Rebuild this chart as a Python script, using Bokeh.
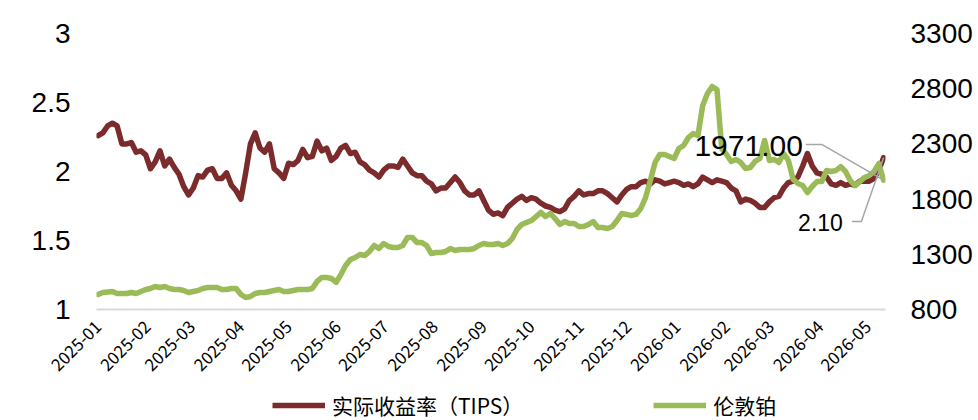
import math
import pandas as pd
from bokeh.plotting import figure
from bokeh.layouts import column
from bokeh.models import (Range1d, LinearAxis, FixedTicker, DatetimeTickFormatter,
                          Legend, LegendItem, Label, ColumnDataSource)
from bokeh.embed import file_html
from bokeh.resources import INLINE

# ---------------- data ----------------
START_DATE = "2025-01-01"
STEP = "3D"

tips = [
    2.26, 2.28, 2.33, 2.35, 2.33, 2.20, 2.20, 2.21, 2.14, 2.15,
    2.12, 2.02, 2.07, 2.15, 2.04, 2.09, 2.03, 1.98, 1.89, 1.83,
    1.88, 1.97, 1.96, 2.01, 2.02, 1.95, 1.95, 1.99, 1.90, 1.86,
    1.80, 1.99, 2.20, 2.28, 2.17, 2.14, 2.20, 2.02, 1.99, 1.95,
    2.06, 2.05, 2.08, 2.16, 2.10, 2.11, 2.22, 2.15, 2.17, 2.08,
    2.11, 2.17, 2.19, 2.13, 2.14, 2.07, 2.05, 2.01, 1.99, 1.96,
    2.01, 2.04, 2.04, 2.03, 2.09, 2.04, 1.99, 1.97, 1.97, 1.93,
    1.91, 1.86, 1.88, 1.88, 1.92, 1.96, 1.92, 1.86, 1.83, 1.83,
    1.86, 1.79, 1.72, 1.69, 1.70, 1.68, 1.74, 1.77, 1.80, 1.82,
    1.79, 1.81, 1.80, 1.77, 1.75, 1.74, 1.72, 1.71, 1.73, 1.79,
    1.82, 1.86, 1.83, 1.84, 1.84, 1.86, 1.86, 1.84, 1.81, 1.78,
    1.83, 1.87, 1.89, 1.89, 1.92, 1.93, 1.91, 1.94, 1.93, 1.91,
    1.92, 1.93, 1.92, 1.90, 1.91, 1.89, 1.91, 1.96, 1.94, 1.92,
    1.94, 1.93, 1.92, 1.88, 1.86, 1.78, 1.80, 1.79, 1.77, 1.74,
    1.74, 1.78, 1.81, 1.82, 1.88, 1.92, 1.93, 1.96, 2.04, 2.13,
    2.04, 1.99, 1.98, 1.96, 1.91, 1.90, 1.92, 1.90, 1.91, 1.90,
    1.93, 1.93, 1.93, 1.95, 2.01, 2.10,
]

platinum = [
    936, 954, 959, 963, 945, 945, 945, 954, 945, 963,
    981, 990, 1008, 999, 1008, 990, 981, 981, 972, 954,
    963, 972, 990, 999, 999, 999, 981, 981, 990, 990,
    936, 909, 918, 945, 954, 954, 963, 972, 981, 963,
    963, 972, 981, 981, 981, 990, 1054, 1090, 1090, 1081,
    1045, 1117, 1199, 1253, 1271, 1298, 1289, 1325, 1380, 1353,
    1398, 1371, 1362, 1362, 1380, 1452, 1452, 1407, 1407, 1380,
    1307, 1316, 1316, 1325, 1353, 1334, 1343, 1343, 1343, 1353,
    1380, 1398, 1389, 1389, 1398, 1380, 1398, 1443, 1525, 1570,
    1588, 1606, 1642, 1679, 1642, 1670, 1624, 1570, 1597, 1579,
    1579, 1552, 1552, 1570, 1597, 1543, 1543, 1534, 1552, 1606,
    1670, 1661, 1651, 1661, 1715, 1814, 1968, 2132, 2204, 2204,
    2186, 2168, 2258, 2286, 2358, 2394, 2376, 2648, 2757, 2820,
    2793, 2258, 2204, 2141, 2159, 2132, 2077, 2086, 2141, 2168,
    2331, 2150, 2159, 2132, 2213, 2150, 1978, 1941, 1923, 1860,
    1914, 1959, 1959, 2059, 2050, 2059, 2095, 2050, 1968, 1923,
    1959, 1996, 2014, 2050, 2122, 1971,
]

months = ["2025-01", "2025-02", "2025-03", "2025-04", "2025-05", "2025-06",
          "2025-07", "2025-08", "2025-09", "2025-10", "2025-11", "2025-12",
          "2026-01", "2026-02", "2026-03", "2026-04", "2026-05"]
left_ticks = [1, 1.5, 2, 2.5, 3]
right_ticks = [800, 1300, 1800, 2300, 2800, 3300]
series_names = ["实际收益率（TIPS）", "伦敦铂"]

# ---------------- styles ----------------
RED = "#7B2B2B"
GREEN = "#9BBB59"
LEADER = "#A6A6A6"
NUM_FONT = "Liberation Sans"
CJK_FONT = "Noto Sans CJK SC"
LINE_W = 5.5

dates = pd.date_range(START_DATE, periods=len(tips), freq=STEP)
src = ColumnDataSource(dict(date=dates, tips=tips, pt=platinum))

def ms(ts):
    return pd.Timestamp(ts).value / 1e6

x0 = ms(dates[0] - pd.Timedelta(days=1))
x1 = ms(dates[-1] + pd.Timedelta(days=1.2))

p = figure(width=978, height=390, x_axis_type="datetime",
           output_backend="svg", toolbar_location=None,
           x_range=Range1d(x0, x1), y_range=Range1d(left_ticks[0], left_ticks[-1]),
           min_border_left=96, min_border_right=93,
           min_border_top=33, min_border_bottom=81)
p.outline_line_color = None
p.xgrid.visible = False
p.ygrid.visible = False
p.extra_y_ranges = {"right": Range1d(right_ticks[0], right_ticks[-1])}

# x axis
xa = p.xaxis[0]
xa.ticker = FixedTicker(ticks=[ms(m + "-01") for m in months])
fmt = "%Y-%m"
xa.formatter = DatetimeTickFormatter(years=fmt, months=fmt, days=fmt, hours=fmt,
                                     minutes=fmt, seconds=fmt, milliseconds=fmt,
                                     microseconds=fmt, hourmin=fmt, minsec=fmt)
xa.major_label_orientation = math.pi / 4
xa.axis_line_color = "#D9D9D9"
xa.axis_line_width = 2
xa.major_tick_line_color = None
xa.minor_tick_line_color = None
xa.major_tick_in = 0
xa.major_tick_out = 0
xa.major_label_standoff = 14
xa.major_label_text_font = CJK_FONT
xa.major_label_text_font_size = "17px"
xa.major_label_text_color = "#000000"

# left axis
ya = p.yaxis[0]
ya.ticker = FixedTicker(ticks=left_ticks)
ya.major_label_overrides = {t: f"{t:g}" for t in left_ticks}
ya.axis_line_color = None
ya.major_tick_line_color = None
ya.minor_tick_line_color = None
ya.major_tick_in = 0
ya.major_tick_out = 0
ya.major_label_standoff = 26
ya.major_label_text_font = NUM_FONT
ya.major_label_text_font_size = "28px"
ya.major_label_text_color = "#000000"

# right axis
ra = LinearAxis(y_range_name="right", ticker=FixedTicker(ticks=right_ticks))
ra.axis_line_color = None
ra.major_tick_line_color = None
ra.minor_tick_line_color = None
ra.major_tick_in = 0
ra.major_tick_out = 0
ra.major_label_standoff = 25
ra.major_label_text_font = NUM_FONT
ra.major_label_text_font_size = "28px"
ra.major_label_text_color = "#000000"
p.add_layout(ra, "right")

r_tips = p.line("date", "tips", source=src, color=RED, line_width=LINE_W,
                line_join="round", line_cap="round")
r_pt = p.line("date", "pt", source=src, color=GREEN, line_width=LINE_W,
              line_join="round", line_cap="round", y_range_name="right")

# last-value call-outs
last_date = dates[-1]
g_start, g_elbow, g_level = pd.Timestamp("2026-03-23"), pd.Timestamp("2026-04-02"), 2295
r_start, r_elbow, r_level = pd.Timestamp("2026-04-21"), pd.Timestamp("2026-04-27"), 1.638

p.line([g_start, g_elbow, last_date], [g_level, g_level, platinum[-1]],
       color=LEADER, line_width=1.5, y_range_name="right")
p.line([r_start, r_elbow, last_date], [r_level, r_level, tips[-1]],
       color=LEADER, line_width=1.5)

p.add_layout(Label(x=ms(g_start), y=g_level, y_range_name="right",
                   text=f"{platinum[-1]:.2f}", text_align="right",
                   text_baseline="middle", x_offset=-3, y_offset=-2,
                   text_font=NUM_FONT, text_font_size="30px", text_color="#000000"))
p.add_layout(Label(x=ms(r_start), y=r_level,
                   text=f"{tips[-1]:.2f}", text_align="right",
                   text_baseline="middle", x_offset=-9, y_offset=-1,
                   text_font=NUM_FONT, text_font_size="23px", text_color="#000000"))

# ---------------- legend strip (separate small figure, frame aligned with p) ----------------
leg = figure(width=978, height=30, output_backend="svg", toolbar_location=None,
             x_range=Range1d(0, 1), y_range=Range1d(0, 1),
             x_axis_location=None, y_axis_location=None,
             min_border_left=0, min_border_right=0, min_border_top=0, min_border_bottom=0)
leg.outline_line_color = None
leg.xgrid.visible = False
leg.ygrid.visible = False
# one-point swatch renderers (draw nothing themselves, only style the legend glyphs)
k_tips = leg.line(x=[-1], y=[-1], color=RED, line_width=LINE_W)
k_pt = leg.line(x=[-1], y=[-1], color=GREEN, line_width=LINE_W)

legend = Legend(items=[LegendItem(label=series_names[0], renderers=[k_tips]),
                       LegendItem(label=series_names[1], renderers=[k_pt])],
                location=(176, 0), orientation="horizontal",
                glyph_width=53, glyph_height=20, label_standoff=7,
                padding=0, margin=0, spacing=130,
                border_line_color=None, background_fill_alpha=0,
                label_text_font=CJK_FONT, label_text_font_size="21px",
                label_text_color="#000000")
leg.add_layout(legend, "center")

open("out.html", "w").write(file_html(column(p, leg, spacing=0), INLINE))
